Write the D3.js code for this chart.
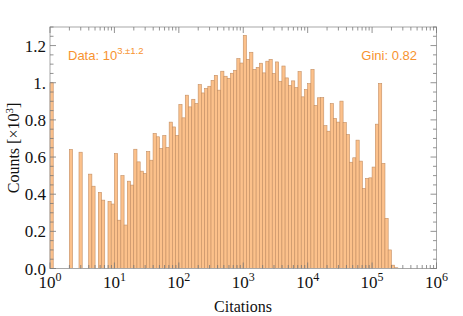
<!DOCTYPE html>
<html>
<head>
<meta charset="utf-8">
<script src="https://cdn.jsdelivr.net/npm/d3@7"></script>
<style>
  body { margin: 0; background: #fff; }
  svg { display: block; }
  .tick-label { font-family: "Liberation Serif", "DejaVu Serif", serif; font-size: 17px; fill: #111; }
  .note { font-family: "Liberation Sans", Arial, sans-serif; font-size: 13px; fill: #f7932f; }
</style>
</head>
<body>
<svg id="chart" width="463" height="316"></svg>
<script>
// histogram bins: 20 per decade, starting at 10^0
var binWidth = 0.05;
// counts per bin, in thousands
var counts = [
  1.0, 0, 0, 0, 0, 0, 0.641, 0, 0, 0.626,
  0, 0, 0.508, 0.443, 0, 0.41, 0.368, 0, 0.361, 0.347,
  0.619, 0.26, 0.50, 0.234, 0.47, 0.449, 0.642, 0.574, 0.524, 0.512,
  0.63, 0.583, 0.727, 0.709, 0.646, 0.716, 0.652, 0.788, 0.762, 0.716,
  0.883, 0.811, 0.933, 0.87, 0.911, 0.888, 0.99, 0.945, 0.969, 0.981,
  1.013, 1.04, 0.96, 1.062, 1.035, 1.024, 1.051, 1.067, 1.13, 1.106,
  1.255, 1.126, 1.164, 1.072, 1.083, 1.105, 1.053, 1.116, 1.126, 1.05,
  1.112, 1.008, 1.09, 1.026, 0.985, 1.01, 0.974, 1.06, 0.924, 0.963,
  0.995, 1.072, 0.878, 0.919, 0.92, 0.769, 0.739, 0.888, 0.808, 0.788,
  0.901, 0.786, 0.721, 0.572, 0.596, 0.691, 0.578, 0.431, 0.485, 0.488,
  0.546, 0.777, 0.996, 0.566, 0.27, 0.1, 0.018, 0.004
];
var xTickExps = [0, 1, 2, 3, 4, 5, 6];
var yTicks = [0, 0.2, 0.4, 0.6, 0.8, 1.0, 1.2];
var yTickLabels = ["0.0", "0.2", "0.4", "0.6", "0.8", "1.", "1.2"];
var dataNote = {base: "Data: 10", sup: "3.\u00b11.2"};
var giniNote = "Gini: 0.82";

var svg = d3.select("#chart");
var pLeft = 50, pRight = 436.5, pTop = 27, pBottom = 268.5;

var x = d3.scaleLog().domain([1, 1e6]).range([pLeft, pRight]);
var y = d3.scaleLinear().domain([0, 1.3]).range([pBottom, pTop]);

var bins = counts.map(function(c, i) {
  return {x0: Math.pow(10, i * binWidth), x1: Math.pow(10, (i + 1) * binWidth), c: c};
}).filter(function(d) { return d.c > 0; });

// bars
svg.append("g").selectAll("rect").data(bins).enter().append("rect")
  .attr("x", function(d) { return x(d.x0); })
  .attr("y", function(d) { return y(d.c); })
  .attr("width", function(d) { return x(d.x1) - x(d.x0); })
  .attr("height", function(d) { return y(0) - y(d.c); })
  .attr("fill", "#fcc18b")
  .attr("stroke", "#c38e62")
  .attr("stroke-width", 0.6);

// frame
svg.append("rect")
  .attr("x", pLeft).attr("y", pTop)
  .attr("width", pRight - pLeft).attr("height", pBottom - pTop)
  .attr("fill", "none").attr("stroke", "#a8a8a8").attr("stroke-width", 1);

// x ticks (bottom & top), major + minor
var minorX = [];
xTickExps.slice(0, -1).forEach(function(e) {
  for (var k = 2; k <= 9; k++) minorX.push(k * Math.pow(10, e));
});
var tickG = svg.append("g").attr("stroke", "#777").attr("stroke-width", 0.8);
xTickExps.forEach(function(e) {
  var px = x(Math.pow(10, e));
  tickG.append("line").attr("x1", px).attr("x2", px).attr("y1", pBottom).attr("y2", pBottom - 6);
  tickG.append("line").attr("x1", px).attr("x2", px).attr("y1", pTop).attr("y2", pTop + 6);
});
minorX.forEach(function(v) {
  var px = x(v);
  tickG.append("line").attr("x1", px).attr("x2", px).attr("y1", pBottom).attr("y2", pBottom - 3.5);
  tickG.append("line").attr("x1", px).attr("x2", px).attr("y1", pTop).attr("y2", pTop + 3.5);
});

// y ticks (left & right)
var minorY = d3.range(0, 1.3001, 0.05);
minorY.forEach(function(v) {
  var major = Math.abs(v / 0.2 - Math.round(v / 0.2)) < 1e-6;
  var len = major ? 6 : 3.5;
  var py = y(v);
  tickG.append("line").attr("x1", pLeft).attr("x2", pLeft + len).attr("y1", py).attr("y2", py);
  tickG.append("line").attr("x1", pRight).attr("x2", pRight - len).attr("y1", py).attr("y2", py);
});

// y tick labels
svg.append("g").selectAll("text").data(yTicks).enter().append("text")
  .attr("class", "tick-label")
  .attr("x", pLeft - 4)
  .attr("y", function(d) { return y(d) + 6; })
  .attr("text-anchor", "end")
  .text(function(d, i) { return yTickLabels[i]; });

// x tick labels 10^n
var xl = svg.append("g").selectAll("text").data(xTickExps).enter().append("text")
  .attr("class", "tick-label")
  .attr("x", function(d) { return x(Math.pow(10, d)); })
  .attr("y", 288)
  .attr("text-anchor", "middle");
xl.append("tspan").text("10");
xl.append("tspan").attr("dy", -7).style("font-size", "12px").text(function(d) { return d; });

// axis titles
svg.append("text").attr("class", "tick-label")
  .attr("x", 243).attr("y", 312).attr("text-anchor", "middle")
  .style("font-size", "16px").text("Citations");

var yt = svg.append("text").attr("class", "tick-label")
  .attr("transform", "translate(19,148) rotate(-90)")
  .attr("text-anchor", "middle").style("font-size", "16px");
yt.append("tspan").text("Counts [\u00d710");
yt.append("tspan").attr("dy", -6).style("font-size", "11px").text("3");
yt.append("tspan").attr("dy", 6).text("]");

// annotations
var dn = svg.append("text").attr("class", "note").attr("x", 68).attr("y", 60);
dn.append("tspan").text(dataNote.base);
dn.append("tspan").attr("dy", -6).style("font-size", "9.5px").text(dataNote.sup);

svg.append("text").attr("class", "note")
  .attr("x", 417).attr("y", 60).attr("text-anchor", "end").text(giniNote);
</script>
</body>
</html>
